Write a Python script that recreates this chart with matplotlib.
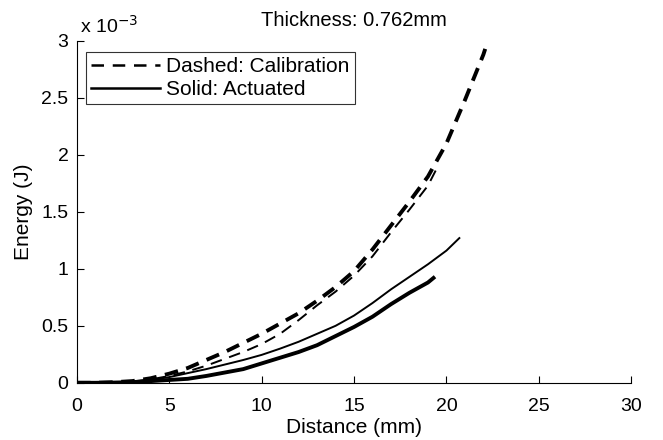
import numpy as np
import matplotlib
matplotlib.use("Agg")
import matplotlib.pyplot as plt
from matplotlib.lines import Line2D

plt.rcParams['font.family'] = ['Liberation Sans', 'DejaVu Sans']

# distance (mm) and energy (x 1e-3 J)
calib1_x = [0, 1, 2, 3, 4, 5, 6, 7, 8, 9, 10, 11, 12, 13, 14, 15, 16, 17, 18, 19, 20, 21, 22, 22.1]
calib1_y = [0, 0.0, 0.005, 0.015, 0.04, 0.08, 0.13, 0.20, 0.27, 0.35, 0.43, 0.52, 0.61, 0.72, 0.84, 0.98,
            1.17, 1.38, 1.59, 1.81, 2.10, 2.48, 2.88, 2.93]

calib2_x = [0, 1, 2, 3, 4, 5, 6, 7, 8, 9, 10, 11, 12, 13, 14, 15, 16, 17, 18, 19, 19.6]
calib2_y = [0, 0.0, 0.004, 0.012, 0.03, 0.06, 0.10, 0.15, 0.21, 0.27, 0.34, 0.43, 0.55, 0.68, 0.80, 0.94,
            1.11, 1.32, 1.52, 1.73, 1.92]

act1_x = [0, 1, 2, 3, 4, 5, 6, 7, 8, 9, 10, 11, 12, 13, 14, 15, 16, 17, 18, 19, 20, 20.7]
act1_y = [0, 0.0, 0.003, 0.01, 0.025, 0.05, 0.085, 0.12, 0.16, 0.20, 0.245, 0.30, 0.36, 0.43, 0.50, 0.59,
          0.70, 0.82, 0.93, 1.04, 1.16, 1.27]

act2_x = [0, 1, 2, 3, 4, 5, 6, 7, 8, 9, 10, 11, 12, 13, 14, 15, 16, 17, 18, 19, 19.3]
act2_y = [0, 0.0, 0.002, 0.006, 0.015, 0.025, 0.035, 0.06, 0.09, 0.12, 0.17, 0.22, 0.27, 0.33, 0.41, 0.49,
          0.58, 0.69, 0.79, 0.88, 0.92]

xticks = [0, 5, 10, 15, 20, 25, 30]
yticks = [0, 0.5, 1, 1.5, 2, 2.5, 3]

fig = plt.figure(figsize=(6.63, 4.40), dpi=100)
ax = fig.add_axes([0.116, 0.130, 0.836, 0.777])

ax.plot(calib1_x, calib1_y, color='black', lw=2.8, dashes=(3.5, 2.2))
ax.plot(calib2_x, calib2_y, color='black', lw=1.4, dashes=(6, 4))
ax.plot(act1_x, act1_y, color='black', lw=1.4)
ax.plot(act2_x, act2_y, color='black', lw=2.8)

ax.set_xlim(0, 30)
ax.set_ylim(0, 3)
ax.set_xticks(xticks)
ax.set_yticks(yticks)
ax.set_yticklabels(['0', '0.5', '1', '1.5', '2', '2.5', '3'])
ax.tick_params(direction='in', length=5, labelsize=14, colors='black', width=0.8)
ax.tick_params(axis='x', pad=11)
ax.tick_params(axis='y', pad=6)
ax.spines['top'].set_visible(False)
ax.spines['right'].set_visible(False)
ax.set_xlabel('Distance (mm)', fontsize=15, labelpad=2)
ax.set_ylabel('Energy (J)', fontsize=15, labelpad=6)
ax.set_title('Thickness: 0.762mm', fontsize=14.5, pad=11)
ax.text(0.005, 1.012, r'x 10$^{-3}$', transform=ax.transAxes, fontsize=14, va='bottom')

handles = [Line2D([], [], color='black', lw=1.8, dashes=(5, 3.5)),
           Line2D([], [], color='black', lw=1.8)]
leg = ax.legend(handles, ['Dashed: Calibration', 'Solid: Actuated'], loc='upper left',
                bbox_to_anchor=(0.016, 0.968), fontsize=15, frameon=True, fancybox=False,
                edgecolor='black', handlelength=3.3, handletextpad=0.3, borderpad=0.25,
                labelspacing=0.2, borderaxespad=0)
leg.get_frame().set_linewidth(0.8)

fig.savefig('out.png', dpi=100)
